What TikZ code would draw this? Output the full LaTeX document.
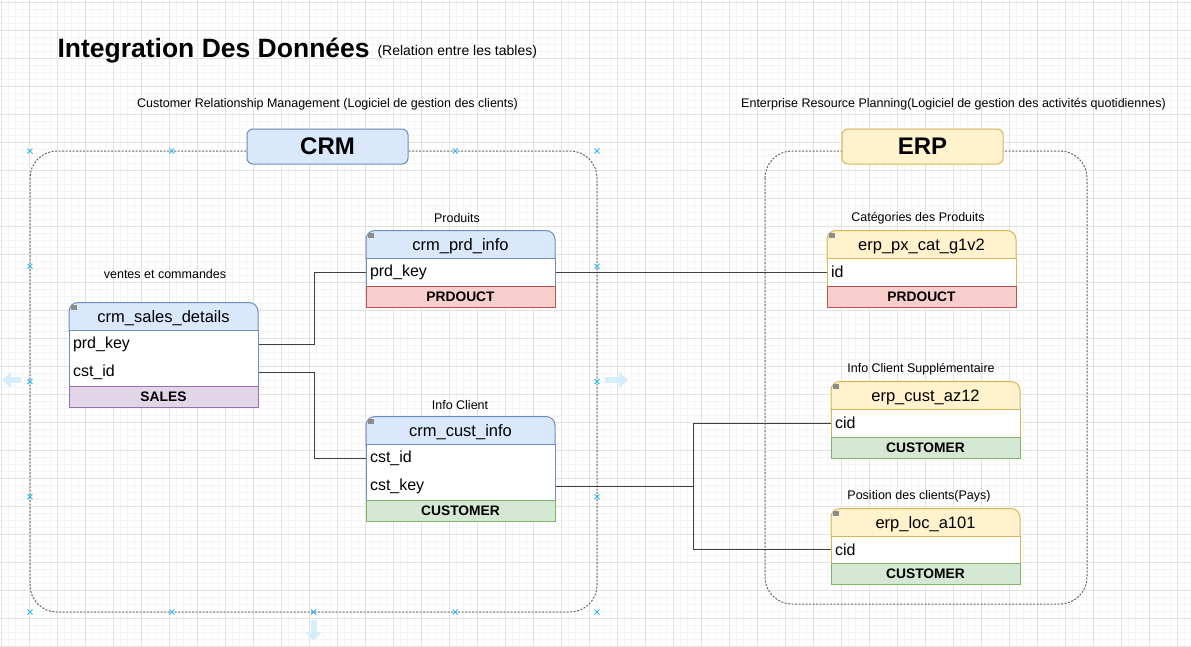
\documentclass[tikz,border=0pt]{standalone}
\usepackage{fontspec}
\setmainfont{Liberation Sans}
\usetikzlibrary{arrows.meta}
\definecolor{bluefill}{HTML}{DAE8FC}
\definecolor{blueline}{HTML}{6C8EBF}
\definecolor{yellowfill}{HTML}{FFF2CC}
\definecolor{yellowline}{HTML}{D6B656}
\definecolor{redfill}{HTML}{F8CECC}
\definecolor{redline}{HTML}{B85450}
\definecolor{greenfill}{HTML}{D5E8D4}
\definecolor{greenline}{HTML}{82B366}
\definecolor{purplefill}{HTML}{E1D5E7}
\definecolor{purpleline}{HTML}{9673A6}
\definecolor{gridmajor}{HTML}{E2E2E2}
\definecolor{gridminor}{HTML}{F5F5F5}
\definecolor{handleblue}{HTML}{29B6F2}
\definecolor{hintblue}{HTML}{D6EEFB}
\begin{document}
\begin{tikzpicture}[x=1pt,y=-1pt,every path/.style={line width=1pt},
  hdr/.style={draw=#1line,fill=#1fill,rounded corners=9pt,minimum width=189pt,
    text height=19.5pt,text depth=17.5pt,inner ysep=0pt,anchor=north,
    font=\fontsize{16.5}{18}\selectfont},
  body/.style={draw=#1line,fill=white,minimum width=189pt,inner sep=0pt,anchor=north},
  fld/.style={text width=181pt,inner xsep=4pt,minimum height=28pt,align=left,
    font=\fontsize{16}{18}\selectfont},
  foot/.style={draw=#1line,fill=#1fill,minimum width=189pt,minimum height=21pt,
    inner sep=0pt,anchor=north,font=\bfseries\fontsize{13.8}{16}\selectfont},
  tblcap/.style={font=\fontsize{12.5}{14}\selectfont},
  lbl/.style={draw=#1line,fill=#1fill,rounded corners=6pt,minimum width=161pt,
    minimum height=35pt,font=\bfseries\fontsize{24}{28}\selectfont},
  box/.style={draw=black!60,dash pattern=on 2pt off 1.5pt,rounded corners=27pt},
  icon/.style={fill=black!45,minimum width=6pt,minimum height=5pt,inner sep=0pt},
  link/.style={draw=black!75},
  handle/.style={draw=handleblue},
  hint/.style={draw=hintblue,line width=6pt,-{Triangle[length=9pt,width=16pt]}}]
\useasboundingbox (0,0) rectangle (1191,646);
\fill[white] (0,0) rectangle (1191,646);
% grid
\foreach \i in {0,...,170} \draw[gridminor] (1.3+7*\i,0) -- (1.3+7*\i,646);
\foreach \j in {0,...,92} \draw[gridminor] (0,2.7+7*\j) -- (1191,2.7+7*\j);
\foreach \i in {0,...,42} \draw[gridmajor] (1.3+28*\i,0) -- (1.3+28*\i,646);
\foreach \j in {0,...,23} \draw[gridmajor] (0,2.7+28*\j) -- (1191,2.7+28*\j);
% titles
\node[anchor=base west,inner sep=0pt,font=\bfseries\fontsize{26.5}{30}\selectfont] (title) at (57,57) {Integration Des Données};
\node[anchor=base west,inner sep=0pt,font=\fontsize{14}{16}\selectfont] (subtitle) at (377,55.5) {(Relation entre les tables)};
\node[tblcap] (crm-txt) at (327.5,104) {Customer Relationship Management (Logiciel de gestion des clients)};
\node[tblcap] (erp-txt) at (953.5,104) {Enterprise Resource Planning(Logiciel de gestion des activités quotidiennes)};
% containers
\draw[box] (30,151) rectangle (597,612);
\draw[box] (765,151) rectangle (1087,604);
\foreach \x in {30,171.75,313.5,455.25,597}
  \foreach \y in {151,612}
    \draw[handle] (\x-2.5,\y-2.5) -- (\x+2.5,\y+2.5) (\x-2.5,\y+2.5) -- (\x+2.5,\y-2.5);
\foreach \x in {30,597}
  \foreach \y in {266.25,381.5,496.75}
    \draw[handle] (\x-2.5,\y-2.5) -- (\x+2.5,\y+2.5) (\x-2.5,\y+2.5) -- (\x+2.5,\y-2.5);
\draw[hint] (21,380) -- (2,380);
\draw[hint] (605,380) -- (628,380);
\draw[hint] (313.5,620) -- (313.5,641);
\node[lbl=blue] (crm) at (327.5,146.5) {CRM};
\node[lbl=yellow] (erp) at (922.5,146.5) {ERP};
% crm_sales_details
\node[tblcap] (t-sales) at (165,274) {ventes et commandes};
\node[hdr=blue] (sales) at (163.5,302) {crm\_sales\_details};
\node[body=blue,minimum height=56pt] (sales-b) at (163.5,330) {};
\node[fld] (sales-prd) at (163.5,344) {prd\_key};
\node[fld] (sales-cst) at (163.5,372) {cst\_id};
\node[foot=purple] (sales-f) at (163.5,386) {SALES};
\node[icon] at ([shift={(5,5.5)}]sales.north west) {};
% crm_prd_info
\node[tblcap] (t-prd) at (457,218) {Produits};
\node[hdr=blue] (prd) at (460.5,230) {crm\_prd\_info};
\node[body=blue,minimum height=28pt] (prd-b) at (460.5,258) {};
\node[fld] (prd-key) at (460.5,272) {prd\_key};
\node[foot=red] (prd-f) at (460.5,286) {PRDOUCT};
\node[icon] at ([shift={(5,5.5)}]prd.north west) {};
% crm_cust_info
\node[tblcap] (t-cust) at (460,405) {Info Client};
\node[hdr=blue] (cust) at (460.5,416) {crm\_cust\_info};
\node[body=blue,minimum height=56pt] (cust-b) at (460.5,444) {};
\node[fld] (cust-id) at (460.5,458) {cst\_id};
\node[fld] (cust-key) at (460.5,486) {cst\_key};
\node[foot=green] (cust-f) at (460.5,500) {CUSTOMER};
\node[icon] at ([shift={(5,5.5)}]cust.north west) {};
% erp_px_cat_g1v2
\node[tblcap] (t-cat) at (918,218) {Catégories des Produits};
\node[hdr=yellow] (cat) at (921.5,230) {erp\_px\_cat\_g1v2};
\node[body=yellow,minimum height=28pt] (cat-b) at (921.5,258) {};
\node[fld] (cat-id) at (921.5,272) {id};
\node[foot=red] (cat-f) at (921.5,286) {PRDOUCT};
\node[icon] at ([shift={(5,5.5)}]cat.north west) {};
% erp_cust_az12
\node[tblcap] (t-az) at (921,369) {Info Client Supplémentaire};
\node[hdr=yellow] (az) at (925.5,381) {erp\_cust\_az12};
\node[body=yellow,minimum height=28pt] (az-b) at (925.5,409) {};
\node[fld] (az-cid) at (925.5,423) {cid};
\node[foot=green] (az-f) at (925.5,437) {CUSTOMER};
\node[icon] at ([shift={(5,5.5)}]az.north west) {};
% erp_loc_a101
\node[tblcap] (t-loc) at (919,496) {Position des clients(Pays)};
\node[hdr=yellow] (loc) at (925.5,508) {erp\_loc\_a101};
\node[body=yellow,minimum height=27pt] (loc-b) at (925.5,536) {};
\node[fld] (loc-cid) at (925.5,549.5) {cid};
\node[foot=green] (loc-f) at (925.5,563) {CUSTOMER};
\node[icon] at ([shift={(5,5.5)}]loc.north west) {};
% relations
\draw[link] (sales-prd.east) -- ++(56,0) |- (prd-key.west);
\draw[link] (sales-cst.east) -- ++(56,0) |- (cust-id.west);
\draw[link] (prd-key.east) -- (cat-id.west);
\draw[link] (cust-key.east) -- ++(138,0) coordinate (split) |- (az-cid.west);
\draw[link] (split) |- (loc-cid.west);
\end{tikzpicture}
\end{document}
